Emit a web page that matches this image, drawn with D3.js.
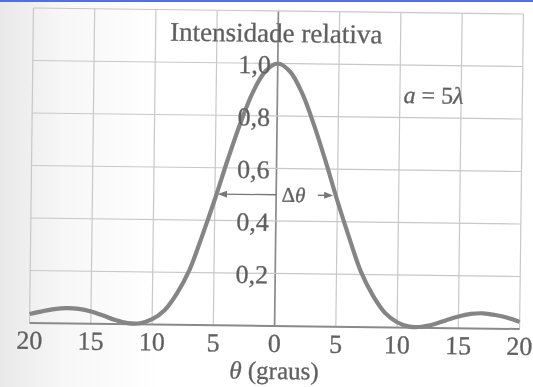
<!DOCTYPE html>
<html>
<head>
<meta charset="utf-8">
<script src="https://cdn.jsdelivr.net/npm/d3@7"></script>
<style>
  body { margin: 0; background: #fff; }
  svg { display: block; }
  text { font-family: "Liberation Serif", "DejaVu Serif", serif; fill: #5f5f5f; stroke: #6a6a6a; stroke-width: 0.35; }
</style>
</head>
<body>
<svg width="533" height="387"></svg>
<script>
// angles (degrees) and relative intensity
const theta = [-20, -19, -18, -17, -16, -15, -14, -13, -12, -11, -10, -9, -8, -7, -6, -5, -4, -3, -2, -1,
               0, 1, 2, 3, 4, 5, 6, 7, 8, 9, 10, 11, 12, 13, 14, 15, 16, 17, 18, 19, 20];
const intensity = [0.034, 0.045, 0.054, 0.058, 0.056, 0.047, 0.032, 0.015, 0.004, 0.004, 0.02, 0.055, 0.12, 0.21, 0.34, 0.48, 0.63, 0.77, 0.89, 0.97,
                   1.0, 0.97, 0.89, 0.77, 0.63, 0.48, 0.34, 0.21, 0.12, 0.055, 0.02, 0.004, 0.004, 0.014, 0.03, 0.045, 0.055, 0.058, 0.052, 0.042, 0.027];
const xTicks = [-20, -15, -10, -5, 0, 5, 10, 15, 20];
const yTicks = [0.2, 0.4, 0.6, 0.8, 1.0];
const yGrid = [0, 0.2, 0.4, 0.6, 0.8, 1.0, 1.2];

const margin = {top: 11, right: 11.5, bottom: 61, left: 31.5};
const W = 533, H = 387;
const width = W - margin.left - margin.right;
const height = H - margin.top - margin.bottom;

const svg = d3.select('svg');
const defs = svg.append('defs');

// scanned page look: grey left edge, blue strip at the top, slight blur
const grad = defs.append('linearGradient').attr('id', 'paper');
grad.append('stop').attr('offset', '0%').attr('stop-color', '#e9e9e9');
grad.append('stop').attr('offset', '12%').attr('stop-color', '#f7f7f7');
grad.append('stop').attr('offset', '30%').attr('stop-color', '#ffffff');
defs.append('filter').attr('id', 'scan')
    .append('feGaussianBlur').attr('stdDeviation', 0.55);

svg.append('rect').attr('width', W).attr('height', H).attr('fill', 'url(#paper)');
svg.append('rect').attr('width', W).attr('height', 2).attr('fill', '#4f6ff0');

const x = d3.scaleLinear().domain([-20, 20]).range([0, width]);
const y = d3.scaleLinear().domain([0, 1.2]).range([height, 0]);

const chart = svg.append('g')
    .attr('filter', 'url(#scan)')
    .append('g')
    .attr('transform', 'translate(' + margin.left + ',' + margin.top + ') rotate(0.7,' + x(0) + ',' + (height / 2) + ')');

// grid
chart.selectAll('.vgrid').data(xTicks).enter().append('line')
    .attr('x1', d => x(d)).attr('x2', d => x(d))
    .attr('y1', 0).attr('y2', height)
    .attr('stroke', d => d === 0 ? '#8a8a8a' : '#c8c8c8')
    .attr('stroke-width', d => d === 0 ? 1.7 : 1.2);

chart.selectAll('.hgrid').data(yGrid).enter().append('line')
    .attr('x1', 0).attr('x2', width)
    .attr('y1', d => y(d)).attr('y2', d => y(d))
    .attr('stroke', d => d === 0 ? '#8a8a8a' : '#c8c8c8')
    .attr('stroke-width', d => d === 0 ? 2 : 1.2);

// curve
const line = d3.line().x(d => x(d[0])).y(d => y(d[1])).curve(d3.curveCatmullRom);
chart.append('path')
    .datum(theta.map((t, i) => [t, intensity[i]]))
    .attr('fill', 'none')
    .attr('stroke', '#858585')
    .attr('stroke-width', 4.2)
    .attr('d', line);

// y labels along the centre axis
const fmt = d => d3.format('.1f')(d).replace('.', ',');
chart.selectAll('.ylab').data(yTicks).enter().append('text')
    .attr('x', x(0) - 7)
    .attr('y', d => y(d) + 10)
    .attr('text-anchor', 'end')
    .style('font-size', '26px')
    .text(fmt);

// x labels
chart.selectAll('.xlab').data(xTicks).enter().append('text')
    .attr('x', d => x(d))
    .attr('y', height + 26)
    .attr('text-anchor', 'middle')
    .style('font-size', '26px')
    .text(d => Math.abs(d));

chart.append('text')
    .attr('x', x(0))
    .attr('y', height + 53)
    .attr('text-anchor', 'middle')
    .style('font-size', '25px')
    .html('<tspan font-style="italic">θ</tspan> (graus)');

chart.append('text')
    .attr('x', x(0) - 2)
    .attr('y', 31)
    .attr('text-anchor', 'middle')
    .style('font-size', '27px')
    .text('Intensidade relativa');

chart.append('text')
    .attr('x', x(10.3))
    .attr('y', y(1.0) + 38)
    .style('font-size', '24px')
    .html('<tspan font-style="italic">a</tspan> = 5<tspan font-style="italic">λ</tspan>');

// Δθ marker at half maximum
const half = 0.5;
chart.append('line')
    .attr('x1', x(0)).attr('x2', x(-4.6))
    .attr('y1', y(half)).attr('y2', y(half))
    .attr('stroke', '#777').attr('stroke-width', 1.3);
chart.append('path')
    .attr('d', 'M' + x(-4.75) + ',' + y(half) + 'l9,-3.5v7z')
    .attr('fill', '#777');
chart.append('line')
    .attr('x1', x(3.4)).attr('x2', x(4.4))
    .attr('y1', y(half)).attr('y2', y(half))
    .attr('stroke', '#777').attr('stroke-width', 1.3);
chart.append('path')
    .attr('d', 'M' + x(4.65) + ',' + y(half) + 'l-9,-3.5v7z')
    .attr('fill', '#777');
chart.append('text')
    .attr('x', x(0.45))
    .attr('y', y(half) + 7)
    .style('font-size', '21px')
    .html('Δ<tspan font-style="italic">θ</tspan>');
</script>
</body>
</html>
